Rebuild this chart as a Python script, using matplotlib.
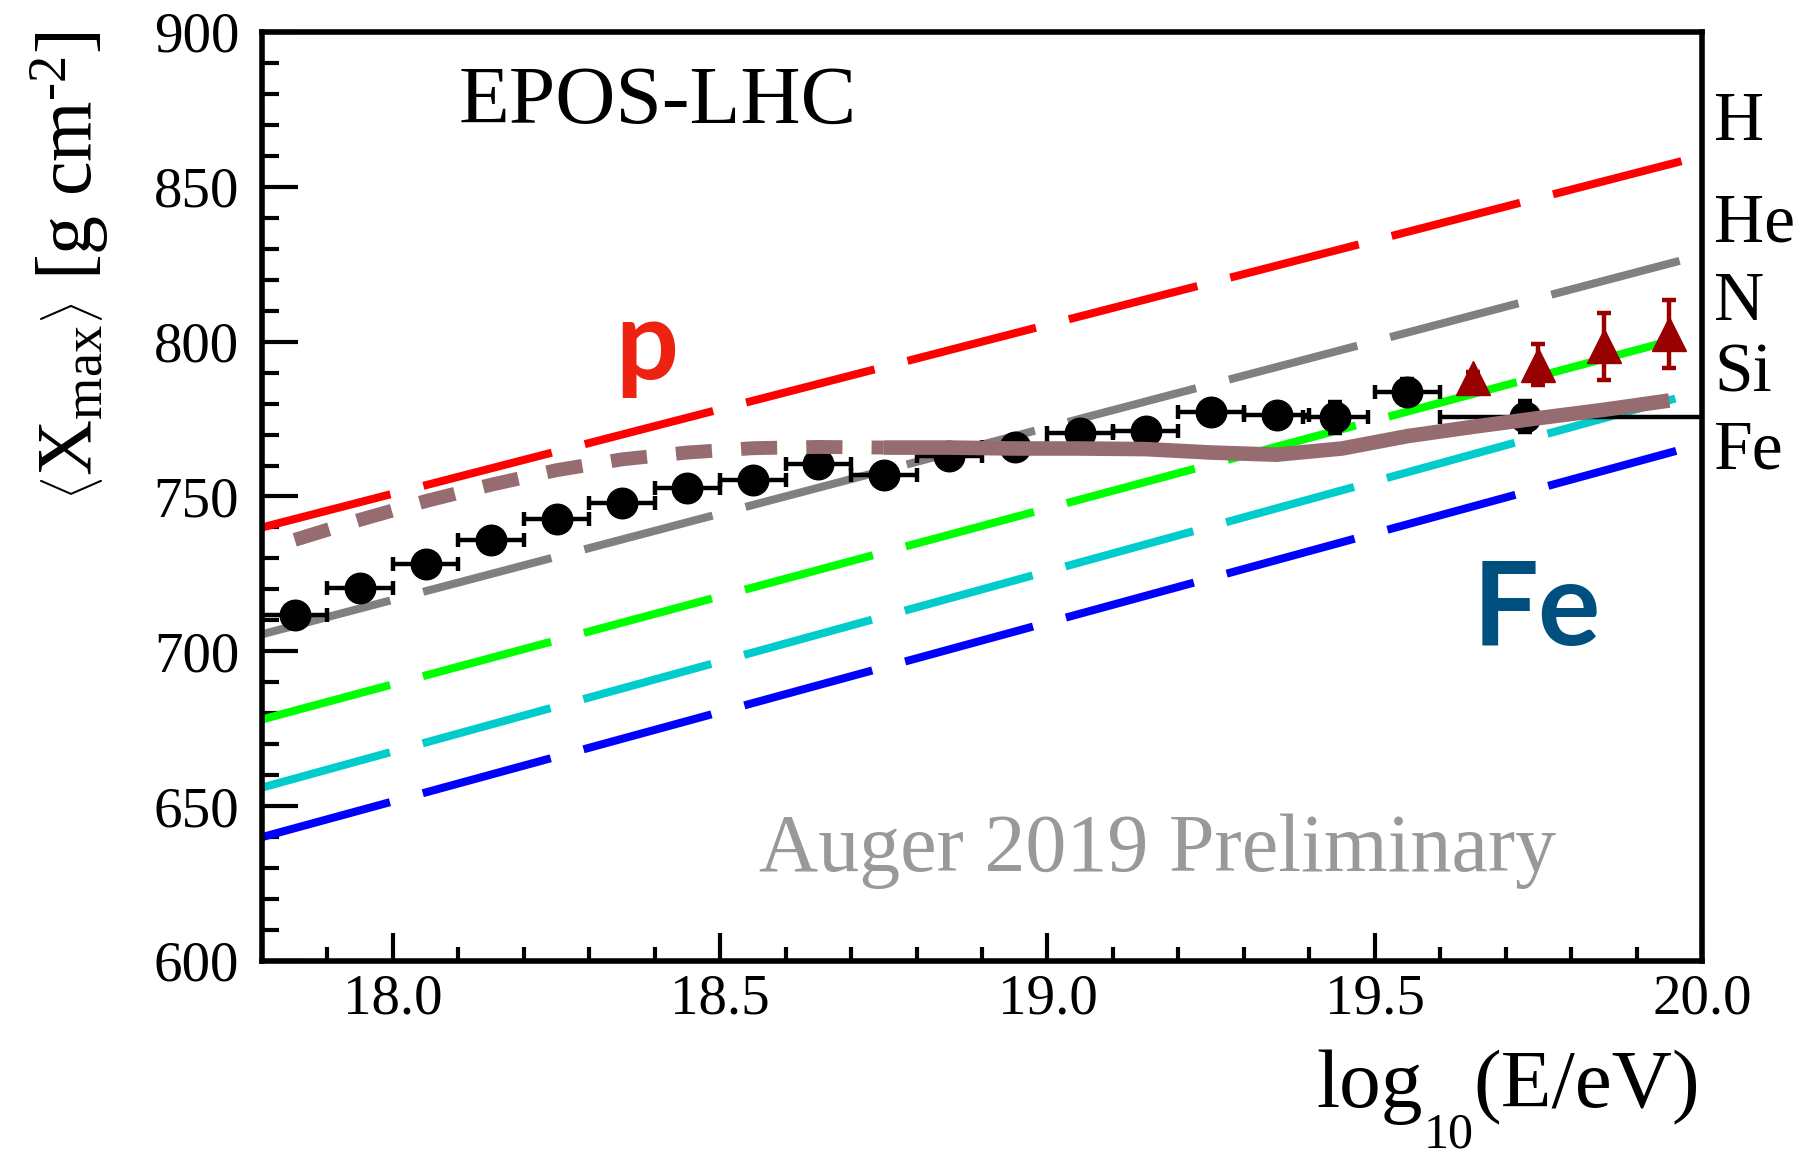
import matplotlib
matplotlib.use('Agg')
import matplotlib.pyplot as plt
from matplotlib.ticker import MultipleLocator, FormatStrFormatter

plt.rcParams['font.family'] = ['Liberation Serif', 'DejaVu Serif']
plt.rcParams['mathtext.fontset'] = 'custom'
plt.rcParams['mathtext.rm'] = 'Liberation Serif'
plt.rcParams['mathtext.it'] = 'Liberation Serif:italic'
plt.rcParams['lines.scale_dashes'] = False

# ---- data ----
# Auger SD/FD <Xmax> (black circles)
lgE = [17.85, 17.95, 18.05, 18.15, 18.25, 18.35, 18.45, 18.55, 18.65, 18.75,
       18.85, 18.95, 19.05, 19.15, 19.25, 19.35, 19.44, 19.55, 19.73]
xmax = [711.8, 720.6, 728.3, 735.9, 742.6, 747.9, 752.8, 755.4, 760.6, 757.1,
        763.2, 766.1, 770.4, 771.3, 777.2, 776.3, 775.6, 783.9, 775.8]
xmax_err = [2, 2, 2, 2, 2, 2, 2, 2, 2.5, 2.5, 3, 3, 3, 3, 3.5, 3.5, 5, 4, 5]
lgE_lo = [0.05] * 18 + [0.13]
lgE_hi = [0.05] * 18 + [0.5]

# triangles (dark red)
lgE_tri = [19.65, 19.75, 19.85, 19.95]
xmax_tri = [788.2, 792.6, 798.5, 802.5]
tri_err = [2, 6.5, 10.9, 11.0]

# model lines (EPOS-LHC)
model_x = [17.8, 20.0]
H_line = [740, 860]
He_line = [705.5, 828]
N_line = [678, 803]
Si_line = [656, 784]
Fe_line = [640, 767]

# fit curve (mauve), dashed part then solid part
fit_x_dash = [17.85, 17.95, 18.05, 18.15, 18.25, 18.35, 18.45, 18.55, 18.65, 18.75]
fit_y_dash = [736.0, 742.5, 748.5, 753.8, 758.5, 762.0, 764.2, 765.6, 766.0, 765.8]
fit_x_solid = [18.75, 18.85, 18.95, 19.05, 19.15, 19.25, 19.35, 19.45, 19.55,
               19.65, 19.75, 19.85, 19.95]
fit_y_solid = [765.8, 765.8, 765.5, 765.5, 765.3, 764.2, 763.5, 765.5, 769.5,
               772.5, 775.3, 778.0, 781.0]

fig = plt.figure(figsize=(18.04, 11.61), dpi=100)
ax = fig.add_axes([0.14523, 0.17227, 0.79823, 0.80017])

for yy, col in [(H_line, '#ff0000'), (He_line, '#808080'), (N_line, '#00ff00'),
                (Si_line, '#00cccc'), (Fe_line, '#0000ff')]:
    ax.plot(model_x, yy, color=col, lw=5.8, dashes=(95.5, 24.5),
            dash_capstyle='butt', zorder=2)

ax.errorbar(lgE, xmax, xerr=[lgE_lo, lgE_hi], yerr=xmax_err, fmt='o', ms=22,
            color='black', ecolor='black', elinewidth=3.2, capsize=4.8,
            capthick=3.2, zorder=3)
ax.errorbar(lgE_tri, xmax_tri, yerr=tri_err, fmt='^', ms=25,
            color='#990000', ecolor='#990000', elinewidth=3.2, capsize=4.8,
            capthick=3.2, zorder=3)

mauve = '#966c71'
ax.plot(fit_x_dash, fit_y_dash, color=mauve, lw=10, dashes=(26, 21),
        dash_capstyle='butt', zorder=4)
ax.plot(fit_x_solid, fit_y_solid, color=mauve, lw=10.5,
        solid_capstyle='butt', zorder=4)

ax.set_xlim(17.8, 20.0)
ax.set_ylim(600, 900)
ax.xaxis.set_major_locator(MultipleLocator(0.5))
ax.xaxis.set_minor_locator(MultipleLocator(0.1))
ax.xaxis.set_major_formatter(FormatStrFormatter('%.1f'))
ax.yaxis.set_major_locator(MultipleLocator(50))
ax.yaxis.set_minor_locator(MultipleLocator(10))
ax.tick_params(which='both', direction='in', top=False, right=False, width=3)
ax.tick_params(axis='y', which='major', length=26, pad=16.5, labelsize=41)
ax.tick_params(axis='y', which='minor', length=12)
ax.tick_params(axis='x', which='major', length=20, pad=9, labelsize=41)
ax.tick_params(axis='x', which='minor', length=10)
for s in ax.spines.values():
    s.set_linewidth(4)

# texts
ax.text(18.1, 870.6, 'EPOS-LHC', fontsize=60, ha='left', va='baseline')
ax.text(18.56, 629, 'Auger 2019 Preliminary', fontsize=59, color='#999999',
        ha='left', va='baseline')
ax.text(18.34, 788, 'p', fontsize=80, color='#ee2211', family='Lato',
        fontweight='bold', ha='left', va='baseline')
ax.text(19.65, 702, 'Fe', fontsize=84, color='#00507f', family='Lato',
        fontweight='bold', ha='left', va='baseline')

trans = ax.get_yaxis_transform()
for lab, yv in [('H', 865.1), ('He', 832.3), ('N', 807.1), ('Si', 783.8), ('Fe', 759.2)]:
    ax.text(1.0083, yv, lab, fontsize=50, transform=trans, ha='left',
            va='baseline', clip_on=False)

# x axis title, ROOT style with a low subscript
W, Hh = 1804, 1161
rend = fig.canvas.get_renderer()
yb = 1 - 1107 / Hh
t3 = fig.text(1700 / W, yb, '(E/eV)', fontsize=60, ha='right', va='baseline')
bb3 = t3.get_window_extent(rend)
t2 = fig.text(bb3.x0 / W, yb - 41 / Hh, '10', fontsize=36, ha='right',
              va='baseline')
bb2 = t2.get_window_extent(rend)
fig.text(bb2.x0 / W, yb, 'log', fontsize=60, ha='right', va='baseline')

ylab = (r'$\left\langle\mathrm{X}_{\mathrm{max}}\right\rangle$ [g cm$^{'
        + '\u2010' + r'2}$]')
fig.text(28 / W, 1 - 31 / Hh, ylab, fontsize=56, rotation=90,
         ha='left', va='top')

fig.savefig('out.png', dpi=100)
